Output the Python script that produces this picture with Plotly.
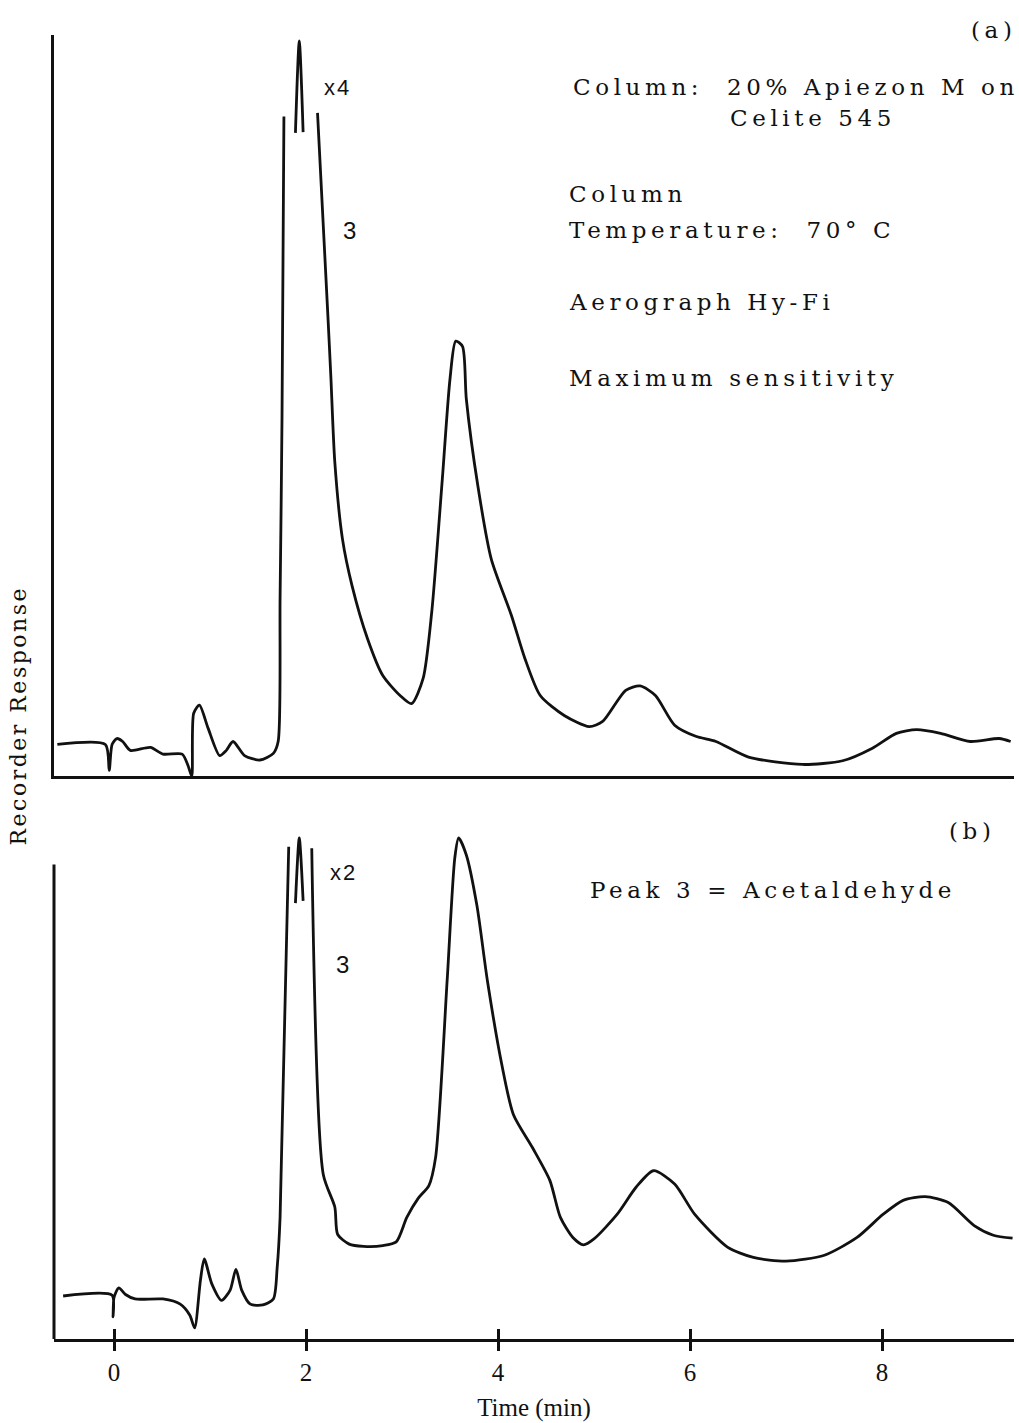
import plotly.graph_objects as go

# ---- data (time in min, recorder response in arbitrary units) ----
time_a = [-0.59, -0.09, -0.05, -0.02, 0.03, 0.09, 0.17, 0.38, 0.51, 0.71, 0.77, 0.81,
          0.83, 0.89, 0.98, 1.10, 1.17, 1.24, 1.36, 1.52, 1.66, 1.71, 1.73, 1.75, 1.77,
          None, 1.89, 1.93, 1.97, None,
          2.12, 2.23, 2.26, 2.30, 2.38, 2.48, 2.64, 2.80, 2.98, 3.10, 3.22, 3.31, 3.42,
          3.50, 3.56, 3.63, 3.67, 3.79, 3.93, 4.14, 4.28, 4.44, 4.69, 4.95, 5.09, 5.33,
          5.48, 5.64, 5.84, 6.06, 6.27, 6.61, 7.17, 7.59, 7.90, 8.15, 8.36, 8.61, 8.92,
          9.22, 9.34]
resp_a = [4.3, 4.3, 0.8, 4.3, 5.1, 4.7, 3.5, 3.9, 3.0, 3.0, 1.5, 0.0,
          8.5, 9.6, 6.5, 2.8, 3.5, 4.7, 2.8, 2.2, 3.1, 4.7, 24.0, 48.2, 89.0,
          None, 86.8, 99.2, 86.9, None,
          89.5, 61.6, 53.6, 42.4, 32.0, 25.7, 18.6, 13.6, 10.9, 9.8, 13.2, 22.2, 40.1,
          53.6, 58.7, 58.0, 50.9, 39.2, 29.3, 21.7, 15.9, 10.9, 8.2, 6.7, 7.4, 11.6,
          12.2, 10.9, 6.9, 5.4, 4.7, 2.6, 1.6, 2.1, 3.8, 5.8, 6.3, 5.8, 4.7,
          5.1, 4.7]

time_b = [-0.53, -0.02, -0.01, 0.00, 0.05, 0.12, 0.22, 0.51, 0.69, 0.79, 0.84, 0.90,
          0.94, 1.02, 1.12, 1.21, 1.27, 1.33, 1.42, 1.55, 1.66, 1.70, 1.73, 1.82,
          None, 1.89, 1.93, 1.97, None,
          2.06, 2.18, 2.30, 2.33, 2.45, 2.60, 2.80, 2.94, 3.05, 3.17, 3.28, 3.35, 3.47,
          3.55, 3.59, 3.67, 3.78, 3.89, 4.04, 4.16, 4.36, 4.54, 4.65, 4.78, 4.89, 5.00,
          5.24, 5.44, 5.62, 5.84, 6.05, 6.39, 6.66, 7.00, 7.40, 7.74, 8.01, 8.22, 8.45,
          8.69, 8.96, 9.16, 9.36]
resp_b = [5.8, 5.9, 3.0, 5.6, 6.9, 6.0, 5.4, 5.4, 4.7, 3.2, 1.5, 7.9,
          10.8, 7.4, 5.2, 6.6, 9.4, 6.6, 4.7, 4.6, 5.4, 9.7, 16.4, 66.4,
          None, 58.8, 67.6, 59.1, None,
          66.2, 22.2, 17.8, 14.1, 12.8, 12.5, 12.6, 13.1, 16.4, 19.0, 20.7, 24.5, 48.3,
          64.9, 67.6, 65.3, 58.5, 48.3, 37.0, 30.3, 25.8, 21.4, 16.4, 13.7, 12.7, 13.5,
          16.8, 20.5, 22.7, 20.9, 16.8, 12.4, 11.0, 10.5, 11.3, 13.7, 16.8, 18.7, 19.2,
          18.4, 15.3, 14.0, 13.6]

tick_vals = [0, 2, 4, 6, 8]
tick_text = ["0", "2", "4", "6", "8"]
x_range = [-0.625, 9.375]

INK = "#111111"
SERIF = "DejaVu Serif, Liberation Serif, serif"
LS = "letter-spacing:4.6px"


def spaced(s, ls=LS):
    return f'<span style="{ls}">{s}</span>'


fig = go.Figure()
fig.add_trace(go.Scatter(x=time_a, y=resp_a, mode="lines", xaxis="x", yaxis="y",
                         line=dict(color=INK, width=2.8, shape="spline",
                                   smoothing=0.7),
                         connectgaps=False, showlegend=False, hoverinfo="skip"))
fig.add_trace(go.Scatter(x=time_b, y=resp_b, mode="lines", xaxis="x2", yaxis="y2",
                         line=dict(color=INK, width=2.8, shape="spline",
                                   smoothing=0.7),
                         connectgaps=False, showlegend=False, hoverinfo="skip"))
# empty trace so the overlay axis (inner tick halves) is drawn
fig.add_trace(go.Scatter(x=[], y=[], xaxis="x3", yaxis="y2", showlegend=False,
                         hoverinfo="skip"))

common_x = dict(range=x_range, showgrid=False, zeroline=False, linecolor=INK,
                linewidth=3)

fig.update_layout(
    width=1019, height=1423,
    margin=dict(l=54, r=5, t=35, b=81),
    paper_bgcolor="white", plot_bgcolor="white",
    xaxis=dict(**common_x, anchor="y", showline=True, showticklabels=False,
               ticks=""),
    yaxis=dict(domain=[0.4315, 1.0], range=[0, 100], anchor="x", showline=True,
               linecolor=INK, linewidth=3, showgrid=False, zeroline=False,
               showticklabels=False, ticks=""),
    xaxis2=dict(**common_x, anchor="y2", showline=True, ticks="outside",
                ticklen=9, tickwidth=3, tickcolor=INK,
                tickvals=tick_vals, ticktext=tick_text,
                tickfont=dict(family="Liberation Serif, serif", size=25, color=INK),
                title=dict(text="Time (min)", standoff=14,
                           font=dict(family="Liberation Serif, serif", size=25,
                                     color=INK))),
    xaxis3=dict(range=x_range, overlaying="x2", anchor="y2", showline=False,
                showgrid=False, zeroline=False, ticks="inside", ticklen=10,
                tickwidth=3, tickcolor=INK, tickvals=tick_vals,
                showticklabels=False),
    yaxis2=dict(domain=[0.0, 0.3894], range=[0, 68.5], anchor="x2",
                showline=False, showgrid=False, zeroline=False,
                showticklabels=False, ticks=""),
    shapes=[dict(type="line", xref="x2 domain", yref="y2", x0=0, x1=0, y0=0,
                 y1=64, line=dict(color=INK, width=3))],
)

ann_font = dict(family=SERIF, size=23, color=INK)
sans_font = dict(family="Liberation Sans, Arial, sans-serif", size=22, color=INK)


def ann(text, x, y, font, xanchor="left"):
    fig.add_annotation(text=text, x=x, y=y, xref="paper", yref="paper",
                       xanchor=xanchor, yanchor="middle", showarrow=False,
                       font=font)


ann(spaced("(a)"), 1.004, 1.0038, ann_font, xanchor="right")
ann(spaced("Column:\u00a0\u00a020% Apiezon M on"), 0.5385, 0.9602, ann_font)
ann(spaced("Celite 545"), 0.7021, 0.9365, ann_font)
ann(spaced("Column"), 0.5344, 0.8784, ann_font)
ann(spaced("Temperature:\u00a0\u00a070° C"), 0.5344, 0.8508, ann_font)
ann(spaced("Aerograph Hy-Fi"), 0.5344, 0.7949, ann_font)
ann(spaced("Maximum sensitivity"), 0.5344, 0.7368, ann_font)
ann(spaced("x4", "letter-spacing:2px"), 0.2792, 0.9594, sans_font)
ann("3", 0.3083, 0.8500, dict(sans_font, size=24), xanchor="center")
ann(spaced("(b)"), 0.9823, 0.3894, ann_font, xanchor="right")
ann(spaced("Peak 3 = Acetaldehyde"), 0.5563, 0.3443, ann_font)
ann(spaced("x2", "letter-spacing:2px"), 0.2854, 0.3581, sans_font)
ann("3", 0.3010, 0.2869, dict(sans_font, size=24), xanchor="center")

fig.add_annotation(text=spaced("Recorder Response", "letter-spacing:2.5px"),
                   x=-0.0375, y=0.4774, xref="paper",
                   yref="paper", xanchor="center", yanchor="middle",
                   showarrow=False, textangle=-90,
                   font=dict(family=SERIF, size=22, color=INK))

fig.write_html("out.html")
